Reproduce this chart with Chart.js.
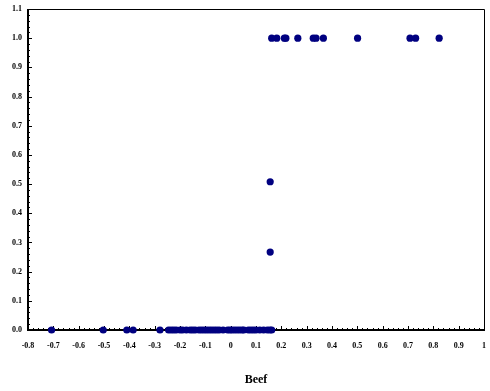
<!DOCTYPE html>
<html>
<head>
<meta charset="utf-8">
<script src="https://cdn.jsdelivr.net/npm/chart.js@4/dist/chart.umd.min.js"></script>
<style>
html,body{margin:0;padding:0;background:#fff;}
#wrap{width:490px;height:391px;}
</style>
</head>
<body>
<div id="wrap"><canvas id="c" width="490" height="391"></canvas></div>
<script>
// Data
const beefZero = [-0.707, -0.503, -0.41, -0.385, -0.279,
  -0.245, -0.235, -0.225, -0.215, -0.2, -0.19, -0.175, -0.16, -0.15, -0.14,
  -0.125, -0.115, -0.105, -0.095, -0.085, -0.075, -0.065, -0.055, -0.045,
  -0.03, -0.012, -0.003, 0.005, 0.015, 0.025, 0.035, 0.045, 0.052,
  0.07, 0.08, 0.09, 0.1, 0.115, 0.13, 0.145, 0.155, 0.162];
const beefMid = [0.156, 0.156];
const yMid = [0.508, 0.267];
const beefOne = [0.162, 0.182, 0.212, 0.218, 0.265, 0.326, 0.337, 0.366, 0.501, 0.708, 0.730, 0.823];
const xTickRange = {min: -0.8, max: 1, step: 0.1};
const yTickRange = {min: 0, max: 1.1, step: 0.1};
const xTitle = 'Beef';

const points = [];
beefZero.forEach(x => points.push({x: x, y: 0}));
beefMid.forEach((x, i) => points.push({x: x, y: yMid[i]}));
beefOne.forEach(x => points.push({x: x, y: 1}));

const frame = {
  id: 'frame',
  beforeDatasetsDraw(chart) {
    const {ctx, chartArea: a, scales: {x, y}} = chart;
    ctx.save();
    ctx.strokeStyle = '#000';
    ctx.lineWidth = 1;
    ctx.beginPath();
    for (let i = 0; i <= 90; i++) {
      const v = -0.8 + i * 0.02;
      const px = Math.round(x.getPixelForValue(v)) + 0.5;
      const len = (i % 5 === 0) ? 4 : 2;
      ctx.moveTo(px, a.bottom); ctx.lineTo(px, a.bottom - len);
    }
    for (let i = 0; i <= 55; i++) {
      const v = i * 0.02;
      const py = Math.round(y.getPixelForValue(v)) + 0.5;
      const len = (i % 5 === 0) ? 4 : 2;
      ctx.moveTo(a.left, py); ctx.lineTo(a.left + len, py);
    }
    ctx.stroke();
    ctx.lineWidth = 1;
    ctx.beginPath();
    ctx.moveTo(a.left, a.top + 0.5); ctx.lineTo(a.right + 0.5, a.top + 0.5); ctx.lineTo(a.right + 0.5, a.bottom);
    ctx.stroke();
    ctx.lineWidth = 2;
    ctx.beginPath();
    ctx.moveTo(a.left, a.top); ctx.lineTo(a.left, a.bottom); ctx.lineTo(a.right + 1, a.bottom);
    ctx.stroke();
    ctx.restore();
  }
};

const tickFont = {family: '"Liberation Serif", "DejaVu Serif", serif', size: 8, weight: 'bold'};

new Chart(document.getElementById('c'), {
  type: 'scatter',
  data: {datasets: [{
    data: points,
    backgroundColor: '#000080',
    borderColor: '#000080',
    pointRadius: 3.6,
    pointHoverRadius: 3.6,
    borderWidth: 0,
    clip: false
  }]},
  options: {
    responsive: false,
    animation: false,
    layout: {padding: {top: 9, right: 6, left: 0, bottom: 0}},
    plugins: {legend: {display: false}, tooltip: {enabled: false}},
    scales: {
      x: {
        type: 'linear',
        min: xTickRange.min, max: xTickRange.max,
        grid: {display: false, drawTicks: false},
        border: {display: false},
        ticks: {
          stepSize: xTickRange.step, color: '#000', font: tickFont, padding: 11,
          maxRotation: 0, autoSkip: false,
          callback: v => { const r = Math.round(v * 10) / 10; return r === 0 ? '0' : String(r); }
        },
        title: {display: true, text: xTitle, color: '#000',
          font: {family: '"Liberation Serif", "DejaVu Serif", serif', size: 12, weight: 'bold'},
          padding: {top: -2, bottom: 4}},
        afterFit: s => { s.height = 61; s.paddingLeft = 0; s.paddingRight = 0; }
      },
      y: {
        type: 'linear',
        min: yTickRange.min, max: yTickRange.max,
        grid: {display: false, drawTicks: false},
        border: {display: false},
        ticks: {
          stepSize: yTickRange.step, color: '#000', font: tickFont, padding: 6,
          autoSkip: false,
          callback: v => (Math.round(v * 10) / 10).toFixed(1)
        },
        afterFit: s => { s.width = 28; s.paddingTop = 0; s.paddingBottom = 0; }
      }
    }
  },
  plugins: [frame]
});
</script>
</body>
</html>
